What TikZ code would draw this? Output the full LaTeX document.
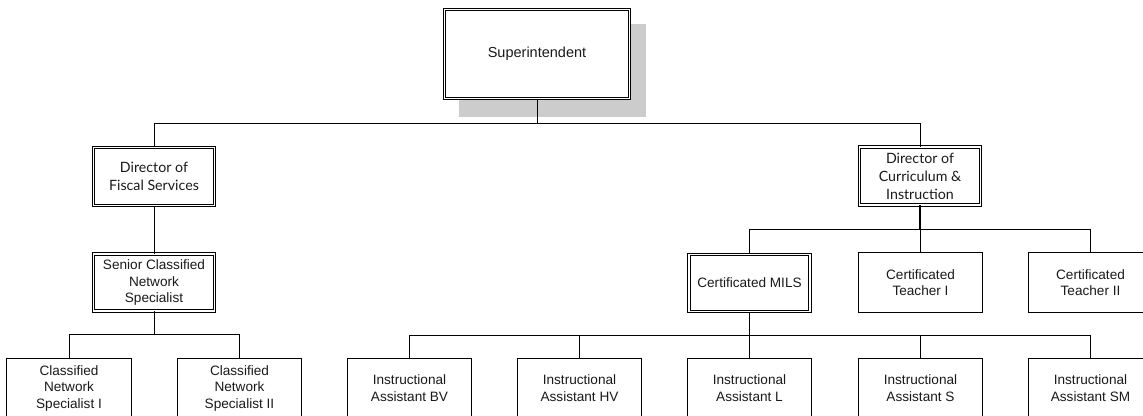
\documentclass[tikz,border=0pt]{standalone}
\usepackage{fontspec}
\setmainfont{Liberation Sans}
\newfontfamily\gillfont{Lato}
\definecolor{shadowgray}{HTML}{CCCCCC}
\definecolor{txt}{HTML}{1A1A1A}
\tikzset{
  box/.style={draw, fill=white, line width=0.8pt, minimum width=124.5pt, minimum height=60pt,
    align=center, inner sep=2pt, text=txt, font=\fontsize{13.6}{16.5}\selectfont},
  dbox/.style={box, line width=0.9pt, double=white, double distance=1.6pt,
    minimum width=121pt, minimum height=57pt},
  gill/.style={font=\gillfont\fontsize{14.2}{18}\selectfont},
  conn/.style={line width=0.8pt},
  thick conn/.style={line width=1.5pt}
}
\begin{document}
\begin{tikzpicture}[x=1pt,y=-1pt]
\useasboundingbox (0,0) rectangle (1143,415);
\clip (0,0) rectangle (1143,415);
% shadow of the top box
\fill[shadowgray] (459,24) rectangle (646,117);
% nodes
\node[dbox, minimum width=185pt, minimum height=89pt, font=\fontsize{14.5}{17}\selectfont] (sup) at (537,54) {Superintendent};
\node[dbox, gill, minimum height=58pt] (fis) at (154,176.5) {Director of\\Fiscal Services};
\node[dbox, gill, minimum height=58pt] (cur) at (920,176) {Director of\\Curriculum \&\\Instruction};
\node[dbox] (sen) at (154,282.5) {Senior Classified\\Network\\Specialist};
\node[dbox] (mils) at (749.5,283) {Certificated MILS};
\node[box] (t1) at (920.5,282.5) {Certificated\\Teacher I};
\node[box] (t2) at (1090.5,282.5) {Certificated\\Teacher II};
\node[box] (c1) at (69,388) {Classified\\Network\\Specialist I};
\node[box] (c2) at (239.5,388) {Classified\\Network\\Specialist II};
\node[box] (bv) at (409.5,388) {Instructional\\Assistant BV};
\node[box] (hv) at (579.5,388) {Instructional\\Assistant HV};
\node[box] (il) at (749.5,388) {Instructional\\Assistant L};
\node[box] (is) at (920.5,388) {Instructional\\Assistant S};
\node[box] (sm) at (1090.5,388) {Instructional\\Assistant SM};
% connectors
\coordinate (j0) at (537,123);
\draw[conn] (sup.south) -- (j0);
\draw[conn] (j0) -| (fis.north);
\draw[conn] (j0) -| (cur.north);
\draw[conn] (fis.south) -- (sen.north);
\coordinate (j1) at (154,334);
\draw[conn] (sen.south) -- (j1);
\draw[conn] (j1) -| (c1.north);
\draw[conn] (j1) -| (c2.north);
\coordinate (j2) at (920,229);
\draw[thick conn] (cur.south) -- (j2);
\draw[conn] (j2) -| (mils.north);
\draw[conn] (j2) -| (t1.north);
\draw[conn] (j2) -| (t2.north);
\coordinate (j3) at (749.5,335);
\draw[thick conn] (mils.south) -- (j3);
\draw[conn] (j3) -| (bv.north);
\draw[conn] (j3) -| (hv.north);
\draw[conn] (j3) -- (il.north);
\draw[conn] (j3) -| (is.north);
\draw[conn] (j3) -| (sm.north);
\end{tikzpicture}
\end{document}
